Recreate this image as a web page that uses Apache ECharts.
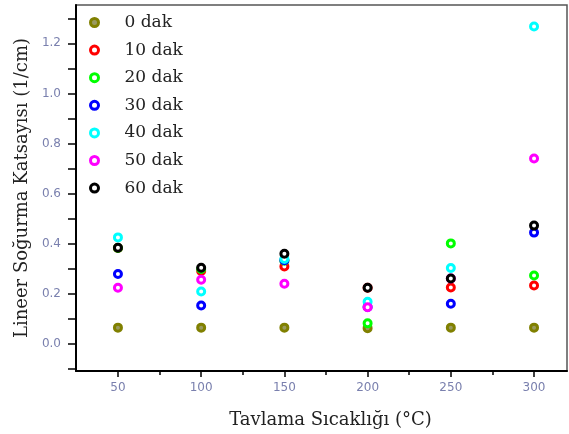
<!DOCTYPE html>
<html>
<head>
<meta charset="utf-8"/>
<title>Lineer Soğurma Katsayısı</title>
<script src="https://cdn.jsdelivr.net/npm/echarts@6/dist/echarts.min.js"></script>
<style>
html,body{margin:0;padding:0;background:#fff;}
</style>
</head>
<body>
<div id="chart" style="width:569px;height:434px;"></div>
<script>
// tavlama sicakligi (x)
var temps = [50, 100, 150, 200, 250, 300];
var seriesNames = ['0 dak', '10 dak', '20 dak', '30 dak', '40 dak', '50 dak', '60 dak'];
var colors = ['#808000', '#ff0000', '#00ff00', '#0000ff', '#00ffff', '#ff00ff', '#000000'];

// values, one array per duration
var dak0  = [0.066, 0.066, 0.066, 0.064, 0.066, 0.066];
var dak10 = [0.384, 0.292, 0.310, 0.225, 0.226, 0.234];
var dak20 = [0.384, 0.300, 0.333, 0.083, 0.402, 0.274];
var dak30 = [0.280, 0.154, 0.335, 0.148, 0.161, 0.445];
var dak40 = [0.426, 0.210, 0.340, 0.169, 0.304, 1.267];
var dak50 = [0.225, 0.257, 0.241, 0.147, 0.262, 0.741];
var dak60 = [0.385, 0.305, 0.361, 0.225, 0.262, 0.473];
var allValues = [dak0, dak10, dak20, dak30, dak40, dak50, dak60];

var xLabels = [50, 100, 150, 200, 250, 300];
var xMinor = [75, 125, 175, 225, 275];
var yLabels = [0, 0.2, 0.4, 0.6, 0.8, 1.0, 1.2];
var yTicks = [-0.1, 0, 0.1, 0.2, 0.3, 0.4, 0.5, 0.6, 0.7, 0.8, 0.9, 1.0, 1.1, 1.2, 1.3];

var labelColor = '#7a80ae';

var series = [];
for (var i = 0; i < seriesNames.length; i++) {
    var pts = [];
    for (var j = 0; j < temps.length; j++) {
        pts.push([temps[j], allValues[i][j]]);
    }
    series.push({
        name: seriesNames[i],
        type: 'scatter',
        symbol: 'circle',
        symbolSize: 7,
        itemStyle: {
            color: i === 0 ? '#9a9a60' : '#ffffff',
            borderColor: colors[i],
            borderWidth: 3,
            opacity: 1
        },
        data: pts
    });
}

var myChart = echarts.init(document.getElementById('chart'));
myChart.setOption({
    animation: false,
    backgroundColor: '#fff',
    grid: {
        left: 76, right: 2, top: 5, bottom: 61,
        show: true,
        borderColor: '#555',
        borderWidth: 1.5
    },
    legend: {
        orient: 'vertical',
        left: 84,
        top: 9,
        itemWidth: 30,
        itemHeight: 8,
        itemGap: 10.6,
        data: seriesNames,
        itemStyle: {borderWidth: 3},
        textStyle: {
            fontFamily: 'DejaVu Serif',
            fontSize: 17,
            color: '#222',
            padding: [0, 0, 0, 10]
        }
    },
    xAxis: [{
        type: 'value',
        position: 'bottom',
        min: 24.8,
        max: 319.8,
        name: 'Tavlama Sıcaklığı (°C)',
        nameLocation: 'middle',
        nameGap: 40,
        nameTextStyle: {
            fontFamily: 'DejaVu Serif',
            fontSize: 18,
            color: '#222',
            padding: [0, 0, 0, 18]
        },
        splitLine: {show: false},
        axisLine: {onZero: false, lineStyle: {color: '#000', width: 2}},
        axisTick: {
            customValues: xLabels,
            length: 6,
            lineStyle: {color: '#000', width: 1.5}
        },
        axisLabel: {
            customValues: xLabels,
            margin: 11,
            fontFamily: 'DejaVu Sans',
            fontSize: 12,
            color: labelColor
        }
    }, {
        type: 'value',
        position: 'bottom',
        min: 24.8,
        max: 319.8,
        splitLine: {show: false},
        axisLine: {show: false, onZero: false},
        axisLabel: {show: false},
        axisTick: {
            customValues: xMinor,
            length: 4,
            lineStyle: {color: '#000', width: 1.5}
        }
    }],
    yAxis: {
        type: 'value',
        min: -0.107,
        max: 1.353,
        name: 'Lineer Soğurma Katsayısı (1/cm)',
        nameLocation: 'middle',
        nameGap: 36,
        nameTextStyle: {
            fontFamily: 'DejaVu Serif',
            fontSize: 18,
            color: '#222'
        },
        splitLine: {show: false},
        axisLine: {onZero: false, lineStyle: {color: '#000', width: 2}},
        axisTick: {
            customValues: yTicks,
            length: 8,
            lineStyle: {color: '#000', width: 1.5}
        },
        axisLabel: {
            customValues: yLabels,
            margin: 15,
            fontFamily: 'DejaVu Sans',
            fontSize: 12,
            color: labelColor,
            formatter: function (v) { return v.toFixed(1); }
        }
    },
    series: series
});
</script>
</body>
</html>
